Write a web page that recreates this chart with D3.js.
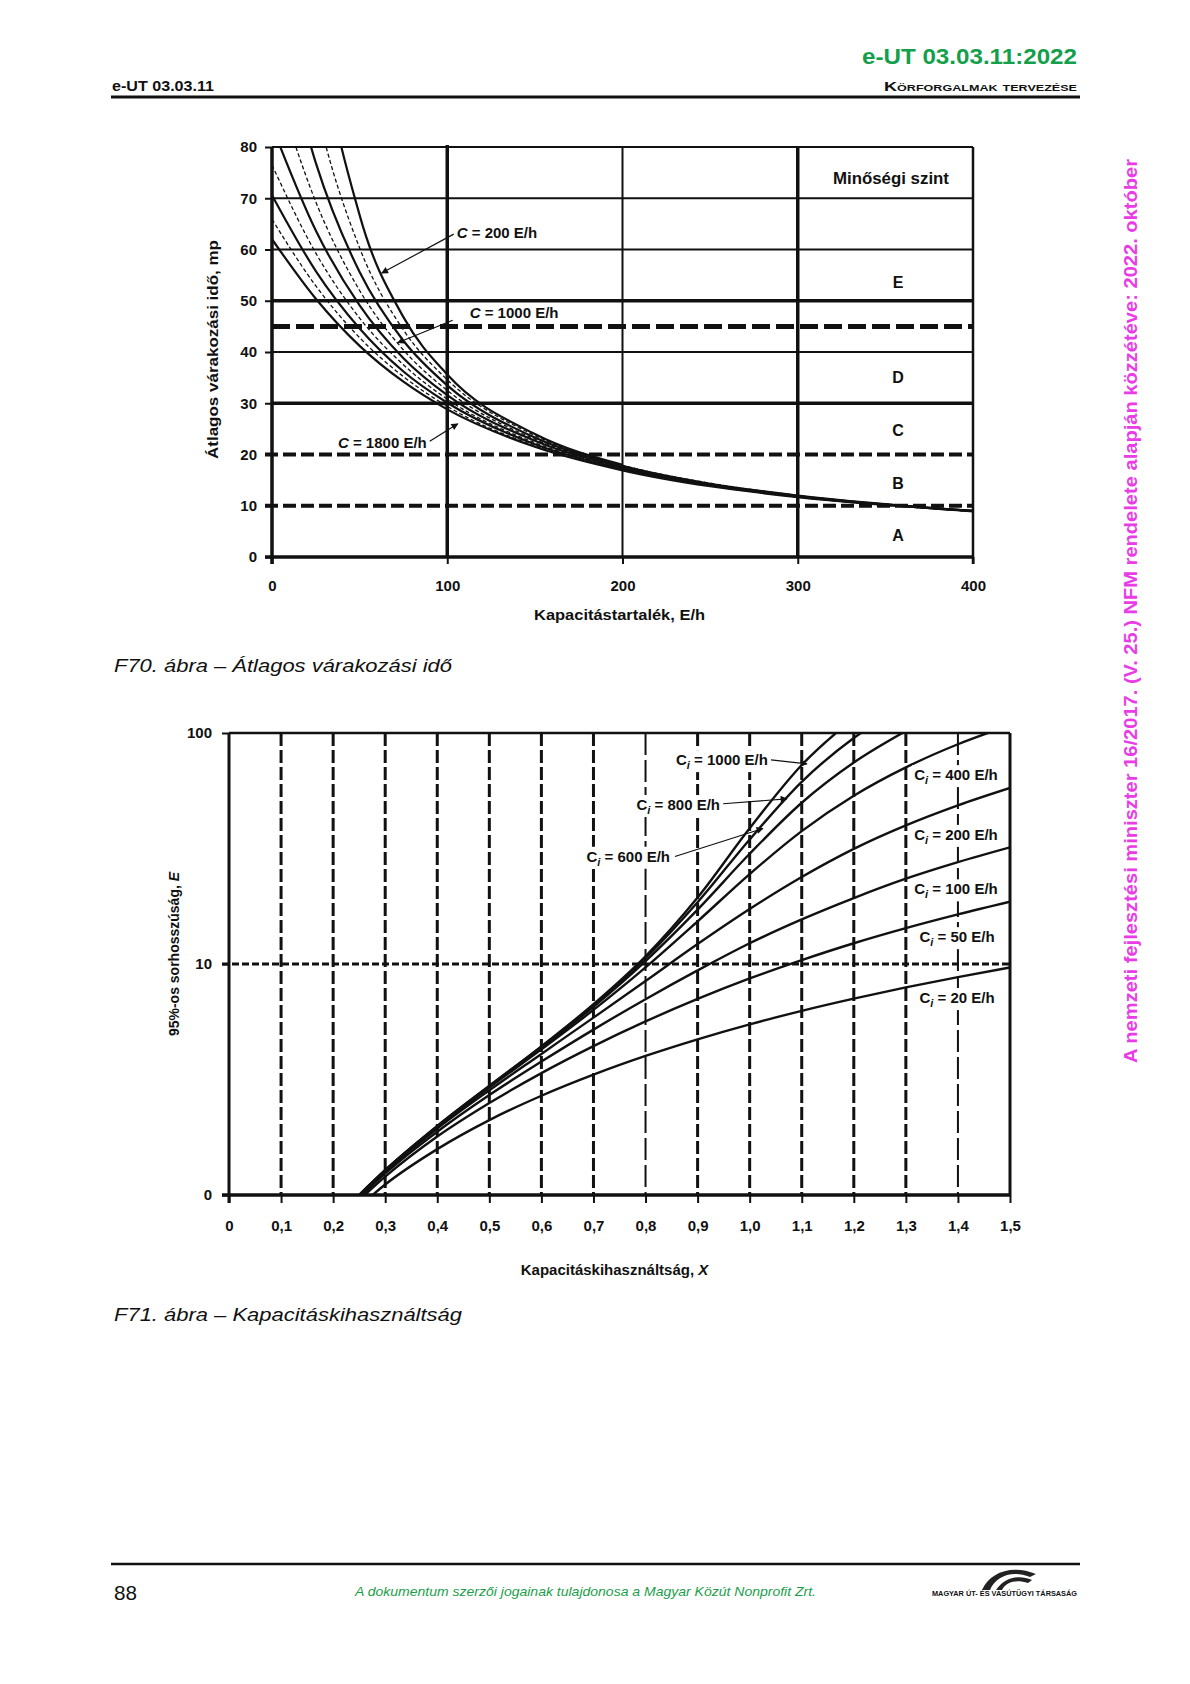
<!DOCTYPE html>
<html><head><meta charset="utf-8">
<script src="https://cdn.jsdelivr.net/npm/d3@7"></script>
<style>
html,body{margin:0;padding:0;background:#fff;}
svg{display:block;}
</style></head><body>
<svg id="page" width="1190" height="1684"></svg>
<script>
// ---------------- DATA: chart F70 (average waiting time) ----------------
const reserveCapacity = [0, 25, 50, 75, 100, 150, 200, 250, 300, 400];
const waitC200  = [198, 108, 66.7, 46.8, 35.6, 24.0, 18.0, null, null, null];
const waitC400  = [136, 88.2, 60.3, 44.3, 34.6, 23.7, 17.9, 14.4, 12.0, 9.0];
const waitC600  = [110, 76.9, 55.6, 42.2, 33.5, 23.3, 17.8, 14.3, 12.0, 9.0];
const waitC800  = [94.5, 69.3, 52.0, 40.4, 32.5, 23.0, 17.6, 14.2, 11.9, 9.0];
const waitC1000 = [84.1, 63.7, 49.1, 38.8, 31.6, 22.7, 17.5, 14.2, 11.9, 9.0];
const waitC1200 = [76.5, 59.3, 46.6, 37.5, 30.8, 22.3, 17.3, 14.1, 11.8, 8.9];
const waitC1400 = [70.6, 55.8, 44.6, 36.2, 30.1, 22.0, 17.2, 14.0, 11.8, 8.9];
const waitC1600 = [65.9, 52.9, 42.8, 35.2, 29.4, 21.7, 17.0, 13.9, 11.7, 8.9];
const waitC1800 = [62.0, 50.4, 41.2, 34.2, 28.8, 21.5, 16.9, 13.8, 11.7, 9.0];
const waitCapacities = [200, 400, 600, 800, 1000, 1200, 1400, 1600, 1800];
const waitSeries = [waitC200, waitC400, waitC600, waitC800, waitC1000, waitC1200, waitC1400, waitC1600, waitC1800];
const waitDashed = [false, true, false, true, false, true, false, true, false];
const yTicks1 = [0, 10, 20, 30, 40, 50, 60, 70, 80];
const xTicks1 = [0, 100, 200, 300, 400];
const levelThinLines = [80, 70, 60, 40];
const levelThickLines = [50, 30];
const levelBoldDashed = [45];
const levelDashed = [20, 10];
const levelLetters = ["E", "D", "C", "B", "A"];
const levelLetterY = [53.5, 35.1, 24.8, 14.4, 4.3];

// ---------------- DATA: chart F71 (95% queue length) ----------------
const utilisation = [0.25, 0.3, 0.4, 0.5, 0.6, 0.7, 0.8, 0.9, 1.0, 1.1, 1.2, 1.3, 1.4, 1.5];
const queueC20   = [0.89, 1.11, 1.58, 2.11, 2.69, 3.32, 4.00, 4.72, 5.48, 6.27, 7.08, 7.92, 8.78, 9.66];
const queueC50   = [0.95, 1.20, 1.79, 2.50, 3.37, 4.41, 5.64, 7.06, 8.66, 10.4, 12.3, 14.3, 16.4, 18.6];
const queueC100  = [0.97, 1.24, 1.88, 2.71, 3.78, 5.20, 7.04, 9.38, 12.3, 15.6, 19.3, 23.4, 27.6, 32.0];
const queueC200  = [0.99, 1.26, 1.94, 2.84, 4.08, 5.86, 8.44, 12.2, 17.3, 23.8, 31.5, 39.8, 48.6, 57.8];
const queueC400  = [0.99, 1.27, 1.97, 2.92, 4.27, 6.33, 9.67, 15.3, 24.5, 37.6, 53.5, 71.0, 89.4, 108];
const queueC600  = [1.00, 1.28, 1.98, 2.94, 4.34, 6.53, 10.3, 17.2, 30.0, 49.9, 74.5, 102, null, null];
const queueC800  = [1.00, 1.28, 1.98, 2.96, 4.38, 6.63, 10.6, 18.5, 34.6, 61.5, 95.1, 132, null, null];
const queueC1000 = [1.00, 1.28, 1.99, 2.97, 4.40, 6.70, 10.8, 19.4, 38.7, 72.7, 116, null, null, null];
const queueSeries = [queueC20, queueC50, queueC100, queueC200, queueC400, queueC600, queueC800, queueC1000];
const yTicks2 = [1, 10, 100];
const yTickLabels2 = ["0", "10", "100"];
const xTicks2 = [0, 0.1, 0.2, 0.3, 0.4, 0.5, 0.6, 0.7, 0.8, 0.9, 1.0, 1.1, 1.2, 1.3, 1.4, 1.5];
const xTickLabels2 = ["0", "0,1", "0,2", "0,3", "0,4", "0,5", "0,6", "0,7", "0,8", "0,9", "1,0", "1,1", "1,2", "1,3", "1,4", "1,5"];
const gridX2 = [0.1, 0.2, 0.3, 0.4, 0.5, 0.6, 0.7, 0.8, 0.9, 1.0, 1.1, 1.2, 1.3, 1.4];

// ---------------- annotation anchors (data units) ----------------
const notes1 = [
  {label: "200",  tx: 105.4, ty: 63.2, anchor: "start", lx: 103.7, ly: 63.0, ax: 62.6, ay: 55.4},
  {label: "1000", tx: 112.8, ty: 47.6, anchor: "start", lx: 103.1, ly: 46.2, ax: 71.7, ay: 41.8},
  {label: "1800", tx: 88.3,  ty: 22.2, anchor: "end",   lx: 90.0,  ly: 22.6, ax: 106.0, ay: 26.0}
];
const notes2Left = [
  {label: "1000", tx: 1.035, tv: 76.5, lx: 1.041, lv: 76.5, ax: 1.110, av: 73.5},
  {label: "800",  tx: 0.943, tv: 48.9, lx: 0.949, lv: 49.4, ax: 1.0716, av: 51.9},
  {label: "600",  tx: 0.847, tv: 29.2, lx: 0.8565, lv: 29.2, ax: 1.0255, av: 38.6}
];
const notes2Right = [
  {label: "400", tx: 1.316, tv: 65.9},
  {label: "200", tx: 1.316, tv: 36.3},
  {label: "100", tx: 1.316, tv: 21.1},
  {label: "50",  tx: 1.326, tv: 13.1},
  {label: "20",  tx: 1.326, tv: 7.14}
];

// ---------------- drawing ----------------
const FONT = '"Liberation Sans", Arial, sans-serif';
const INK = '#111';
const svg = d3.select('#page');
svg.append('rect').attr('width', 1190).attr('height', 1684).attr('fill', '#fff');
const defs = svg.append('defs');
defs.append('marker').attr('id', 'arr').attr('viewBox', '0 0 10 10').attr('refX', 9).attr('refY', 5)
  .attr('markerWidth', 10).attr('markerHeight', 7).attr('markerUnits', 'userSpaceOnUse').attr('orient', 'auto')
  .append('path').attr('d', 'M0,0 L10,5 L0,10 z').attr('fill', INK);

function txt(g, x, y, s, o) {
  o = o || {};
  const t = g.append('text').attr('x', x).attr('y', y).text(s)
    .attr('font-family', o.family || FONT).attr('font-size', o.size || 15)
    .attr('font-weight', o.weight || 'bold').attr('fill', o.fill || INK)
    .attr('text-anchor', o.anchor || 'start');
  if (o.style) t.attr('font-style', o.style);
  if (o.len) t.attr('textLength', o.len).attr('lengthAdjust', 'spacingAndGlyphs');
  if (o.rotate) t.attr('transform', `rotate(${o.rotate},${x},${y})`);
  if (o.dy) t.attr('dy', o.dy);
  return t;
}
function seg(g, x1, y1, x2, y2, w, dash) {
  return g.append('line').attr('x1', x1).attr('y1', y1).attr('x2', x2).attr('y2', y2)
    .attr('stroke', INK).attr('stroke-width', w).attr('stroke-dasharray', dash || null);
}

// ---- page header ----
const head = svg.append('g');
txt(head, 1077, 64, 'e-UT 03.03.11:2022', {size: 22, fill: '#149f4c', anchor: 'end', len: 215});
txt(head, 1077, 91, 'Körforgalmak tervezése', {size: 13, anchor: 'end', len: 193}).style('font-variant', 'small-caps');
txt(head, 112, 91, 'e-UT 03.03.11', {size: 15, len: 102});
seg(head, 111, 97, 1080, 97, 3);

// ---- page footer ----
seg(head, 111, 1564, 1080, 1564, 2.5);
txt(head, 114, 1600, '88', {size: 20, weight: 'normal', len: 23});
txt(head, 355, 1596, 'A dokumentum szerzői jogainak tulajdonosa a Magyar Közút Nonprofit Zrt.',
  {size: 13.5, weight: 'normal', style: 'italic', fill: '#1a9e4a', len: 461});
// logo
head.append('path').attr('d', 'M982,1590 C990,1572 1012,1564 1036,1574 L1030,1577 C1012,1570 996,1576 990,1590 Z').attr('fill', '#222');
head.append('path').attr('d', 'M996,1590 C1004,1578 1018,1574 1032,1580 L1028,1583 C1016,1579 1006,1582 1002,1590 Z').attr('fill', '#222');
txt(head, 932, 1596, 'MAGYAR ÚT- ÉS VASÚTÜGYI TÁRSASÁG', {size: 6.5, len: 145});
// magenta side note
txt(head, 1137, 611, 'A nemzeti fejlesztési miniszter 16/2017. (V. 25.) NFM rendelete alapján közzétéve: 2022. október',
  {size: 18, fill: '#e93ce6', anchor: 'middle', len: 904, rotate: -90});

// ============ Chart F70 ============
const x1 = d3.scaleLinear().domain([0, 400]).range([272, 973]);
const y1 = d3.scaleLinear().domain([0, 80]).range([557, 147]);
const c1 = svg.append('g');
defs.append('clipPath').attr('id', 'clip1').append('rect')
  .attr('x', x1(0)).attr('y', y1(80)).attr('width', x1(400) - x1(0)).attr('height', y1(0) - y1(80));

levelThinLines.forEach(v => seg(c1, x1(0), y1(v), x1(400), y1(v), 2));
levelThickLines.forEach(v => seg(c1, x1(0), y1(v), x1(400), y1(v), 3.5));
seg(c1, x1(100), y1(80) - 2, x1(100), y1(0), 3.5);
seg(c1, x1(200), y1(80), x1(200), y1(0), 2);
seg(c1, x1(300), y1(80), x1(300), y1(0), 3.5);
seg(c1, x1(400), y1(80), x1(400), y1(0) + 7, 2.5);

const line1 = d3.line().defined(d => d[1] != null).x(d => x1(d[0])).y(d => y1(d[1])).curve(d3.curveMonotoneX);
const curves1 = c1.append('g').attr('clip-path', 'url(#clip1)');
waitSeries.forEach((s, i) => {
  curves1.append('path').datum(reserveCapacity.map((r, j) => [r, s[j]]))
    .attr('d', line1).attr('fill', 'none').attr('stroke', INK)
    .attr('stroke-width', waitDashed[i] ? 1.3 : 2.2)
    .attr('stroke-dasharray', waitDashed[i] ? '4,2.5' : null);
});

levelBoldDashed.forEach(v => seg(c1, x1(0), y1(v), x1(400), y1(v), 5, '18,6'));
levelDashed.forEach(v => seg(c1, x1(0) - 7, y1(v), x1(400), y1(v), 4, '13,5'));
seg(c1, x1(0), y1(80), x1(0), y1(0) + 7, 3.5);
seg(c1, x1(0) - 7, y1(0), x1(400), y1(0), 3.5);

function styleAxis(g, size) {
  g.select('.domain').remove();
  g.attr('font-family', null).attr('font-size', null);
  g.selectAll('line').attr('stroke', INK).attr('stroke-width', 2);
  g.selectAll('text').attr('font-family', FONT).attr('font-size', size).attr('font-weight', 'bold').attr('fill', INK);
}
c1.append('g').attr('transform', `translate(${x1(0)},0)`)
  .call(d3.axisLeft(y1).tickValues(yTicks1).tickSize(7).tickPadding(8).tickFormat(d => d))
  .call(g => styleAxis(g, 15));
c1.append('g').attr('transform', `translate(0,${y1(0)})`)
  .call(d3.axisBottom(x1).tickValues(xTicks1).tickSize(7).tickPadding(16).tickFormat(d => d))
  .call(g => styleAxis(g, 15));

txt(c1, 213, 349.5, 'Átlagos várakozási idő, mp', {size: 15, anchor: 'middle', len: 219, rotate: -90, dy: '0.35em'});
txt(c1, 619.5, 620, 'Kapacitástartalék, E/h', {size: 15, anchor: 'middle', len: 171});
txt(c1, x1(353.2), y1(73.8), 'Minőségi szint', {size: 16, anchor: 'middle', len: 116, dy: '0.35em'});
levelLetters.forEach((L, i) => txt(c1, x1(357.2), y1(levelLetterY[i]), L, {size: 16, anchor: 'middle', dy: '0.35em'}));

notes1.forEach(n => {
  seg(c1, x1(n.lx), y1(n.ly), x1(n.ax), y1(n.ay), 1.2).attr('marker-end', 'url(#arr)');
  const t = txt(c1, x1(n.tx), y1(n.ty), '', {size: 15, anchor: n.anchor, dy: '0.35em'});
  t.append('tspan').attr('font-style', 'italic').text('C');
  t.append('tspan').text(' = ' + n.label + ' E/h');
});

txt(c1, 114, 672, 'F70. ábra – Átlagos várakozási idő', {size: 19, weight: 'normal', style: 'italic', len: 338});

// ============ Chart F71 ============
const x2 = d3.scaleLinear().domain([0, 1.5]).range([229, 1010]);
const y2 = d3.scaleLog().domain([1, 100]).range([1195, 733]);
const c2 = svg.append('g');
defs.append('clipPath').attr('id', 'clip2').append('rect')
  .attr('x', x2(0)).attr('y', y2(100)).attr('width', x2(1.5) - x2(0)).attr('height', y2(1) - y2(100));

gridX2.forEach(v => {
  const light = (Math.abs(v - 0.8) < 1e-9 || Math.abs(v - 1.4) < 1e-9);
  seg(c2, x2(v), y2(100), x2(v), y2(1), light ? 2 : 3, light ? '22,5' : '13,4');
});
seg(c2, x2(0) - 7, y2(10), x2(1.5), y2(10), 3, '7,3');

const line2 = d3.line().defined(d => d[1] != null).x(d => x2(d[0])).y(d => y2(d[1])).curve(d3.curveMonotoneX);
const curves2 = c2.append('g').attr('clip-path', 'url(#clip2)');
queueSeries.forEach(s => {
  curves2.append('path').datum(utilisation.map((u, j) => [u, s[j]]))
    .attr('d', line2).attr('fill', 'none').attr('stroke', INK).attr('stroke-width', 2.4);
});

seg(c2, x2(0), y2(100), x2(1.5), y2(100), 2.5);
seg(c2, x2(1.5), y2(100), x2(1.5), y2(1), 3);
seg(c2, x2(0), y2(100), x2(0), y2(1) + 8, 3);
seg(c2, x2(0) - 7, y2(1), x2(1.5), y2(1), 3.5);

c2.append('g').attr('transform', `translate(${x2(0)},0)`)
  .call(d3.axisLeft(y2).tickValues(yTicks2).tickSize(7).tickPadding(10).tickFormat((d, i) => yTickLabels2[i]))
  .call(g => styleAxis(g, 15));
c2.append('g').attr('transform', `translate(0,${y2(1)})`)
  .call(d3.axisBottom(x2).tickValues(xTicks2).tickSize(8).tickPadding(17).tickFormat((d, i) => xTickLabels2[i]))
  .call(g => styleAxis(g, 15));

const yt2 = txt(c2, 174, 954, '', {size: 14, anchor: 'middle', rotate: -90, dy: '0.35em'});
yt2.append('tspan').text('95%-os sorhosszúság, ');
yt2.append('tspan').attr('font-style', 'italic').text('E');
const xt2 = txt(c2, 614.5, 1275, '', {size: 15, anchor: 'middle'});
xt2.append('tspan').text('Kapacitáskihasználtság,  ');
xt2.append('tspan').attr('font-style', 'italic').text('X');

function ciLabel(t, value) {
  t.append('tspan').text('C');
  t.append('tspan').attr('dy', 4).attr('font-size', 11).attr('font-style', 'italic').text('i');
  t.append('tspan').attr('dy', -4).text(' = ' + value + ' E/h');
}
function boxedLabel(g, n, anchor) {
  const bg = g.append('rect').attr('fill', '#fff');
  const t = txt(g, x2(n.tx), y2(n.tv), '', {size: 15, anchor: anchor, dy: '0.35em'});
  ciLabel(t, n.label);
  const b = t.node().getBBox();
  bg.attr('x', b.x - 2).attr('y', b.y - 1).attr('width', b.width + 4).attr('height', b.height + 2);
}
notes2Left.forEach(n => {
  boxedLabel(c2, n, 'end');
  seg(c2, x2(n.lx), y2(n.lv), x2(n.ax), y2(n.av), 1.2).attr('marker-end', 'url(#arr)');
});
notes2Right.forEach(n => boxedLabel(c2, n, 'start'));

txt(c2, 114, 1321, 'F71. ábra – Kapacitáskihasználtság', {size: 19, weight: 'normal', style: 'italic', len: 348});
</script>
</body></html>
